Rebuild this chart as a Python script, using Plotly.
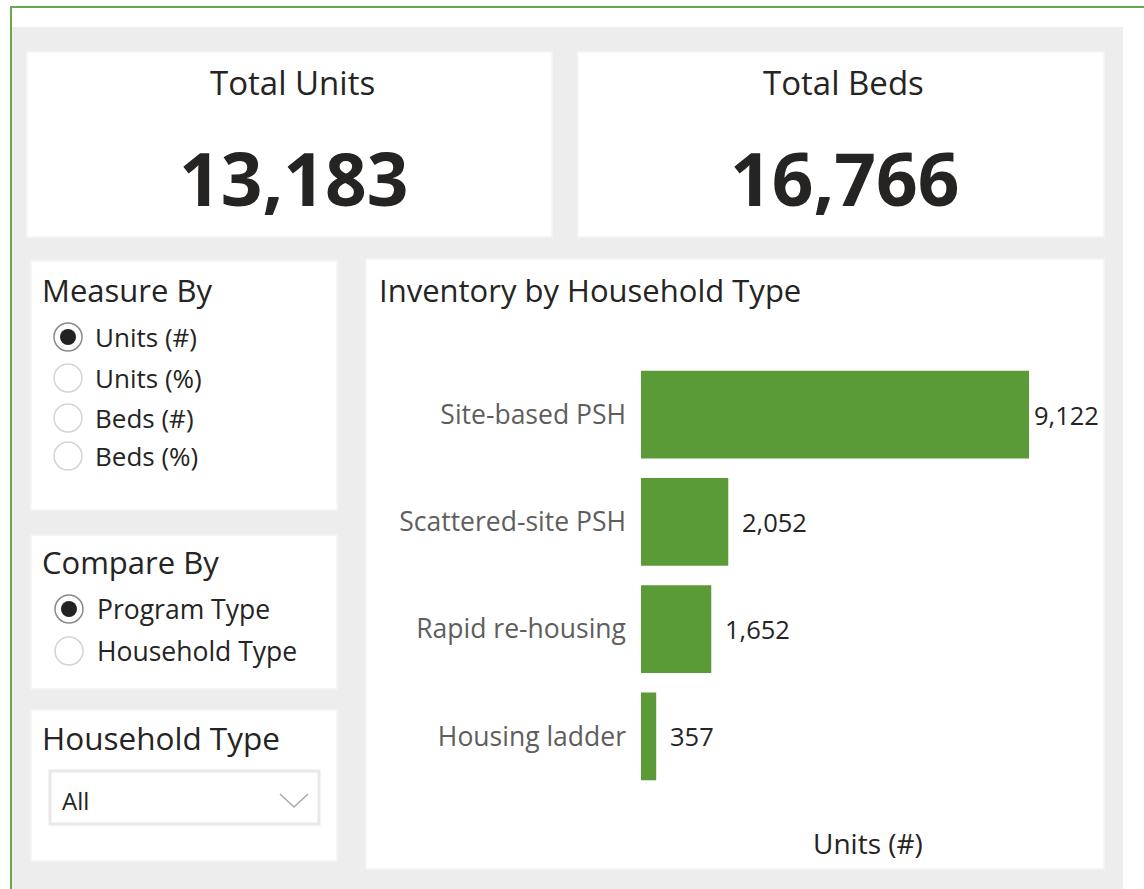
import plotly.graph_objects as go

# data
categories = ["Site-based PSH", "Scattered-site PSH", "Rapid re-housing", "Housing ladder"]
units = [9122, 2052, 1652, 357]
total_beds = 16766
measure_options = ["Units (#)", "Units (%)", "Beds (#)", "Beds (%)"]
compare_options = ["Program Type", "Household Type"]
household_choice = "All"

W, H = 1144, 889
FONT = "Segoe UI, Open Sans, sans-serif"
DARK = "#252423"
GREY_TXT = "#605E5C"
BAR_GREEN = "#5B9B37"
BG = "#EDEDED"


def X(x):
    return x / W


def Y(y):
    return 1 - y / H


def rect(x0, y0, x1, y1, **kw):
    d = dict(type="rect", xref="paper", yref="paper",
             x0=X(x0), x1=X(x1), y0=Y(y1), y1=Y(y0), layer="below")
    d.update(kw)
    return d


def text(x, y, s, size, color=DARK, xanchor="left", weight=None):
    f = dict(family=FONT, size=size, color=color)
    if weight:
        f["weight"] = weight
    return dict(text=s, xref="paper", yref="paper", x=X(x), y=Y(y),
                xanchor=xanchor, yanchor="middle", showarrow=False, font=f)


fig = go.Figure()

fig.add_trace(go.Bar(
    x=units,
    y=categories,
    orientation="h",
    marker=dict(color=BAR_GREEN, line=dict(width=0)),
    hoverinfo="skip",
))

shapes = []
# background and frame
shapes.append(rect(12, 27, 1123, 900, fillcolor=BG, line=dict(width=0)))
shapes.append(rect(11, 7, 1160, 910, fillcolor="rgba(0,0,0,0)",
                   line=dict(color="#6AA84F", width=2)))
# panels
panel_line = dict(color="#F5F5F5", width=1.5)
for box in [(27, 52, 552, 237), (578, 52, 1104, 237), (31, 261, 337, 510),
            (31, 535, 337, 689), (31, 710, 337, 861), (366, 259, 1104, 869)]:
    shapes.append(rect(*box, fillcolor="white", line=panel_line))

# dropdown box
shapes.append(rect(50, 771, 319, 824, fillcolor="white",
                   line=dict(color="#E8E8E8", width=3)))
shapes.append(dict(type="path", xref="paper", yref="paper",
                   path=f"M {X(280)} {Y(794)} L {X(294)} {Y(807)} L {X(308)} {Y(794)}",
                   line=dict(color="#A8A8A8", width=1.5)))

annotations = []


def radio(cx, cy, selected):
    r = 14
    if selected:
        shapes.append(dict(type="circle", xref="paper", yref="paper",
                           x0=X(cx - r), x1=X(cx + r), y0=Y(cy + r), y1=Y(cy - r),
                           fillcolor="white", line=dict(color="#8A8A8A", width=1.5)))
        ri = 8
        shapes.append(dict(type="circle", xref="paper", yref="paper",
                           x0=X(cx - ri), x1=X(cx + ri), y0=Y(cy + ri), y1=Y(cy - ri),
                           fillcolor="#222222", line=dict(width=0)))
    else:
        shapes.append(dict(type="circle", xref="paper", yref="paper",
                           x0=X(cx - r), x1=X(cx + r), y0=Y(cy + r), y1=Y(cy - r),
                           fillcolor="white", line=dict(color="#D4D4D4", width=1.5)))


# KPI cards
annotations.append(text(292, 83, "Total Units", 33, xanchor="center"))
annotations.append(text(294, 177, f"{sum(units):,}", 73, xanchor="center", weight=700))
annotations.append(text(843, 83, "Total Beds", 33, xanchor="center"))
annotations.append(text(845, 177, f"{total_beds:,}", 73, xanchor="center", weight=700))

# slicers
annotations.append(text(40, 290, "Measure By", 31))
for i, opt in enumerate(measure_options):
    cy = [337, 378, 418, 456][i]
    radio(68, cy, i == 0)
    annotations.append(text(93, cy, opt, 26))

annotations.append(text(40, 562, "Compare By", 31))
for i, opt in enumerate(compare_options):
    cy = [609, 651][i]
    radio(69, cy, i == 0)
    annotations.append(text(95, cy, opt, 26.5))

annotations.append(text(40, 737, "Household Type", 31.5))
annotations.append(text(60, 800, household_choice, 24))

# chart title and axis title
annotations.append(text(377, 290, "Inventory by Household Type", 31))
annotations.append(dict(text="Units (#)", xref="x domain", yref="paper", x=0.5, y=Y(843),
                        xanchor="center", yanchor="middle", showarrow=False,
                        font=dict(family=FONT, size=28, color=DARK)))

# data labels
for cat, v in zip(categories, units):
    annotations.append(dict(text=f"{v:,}", x=v, y=cat, xref="x", yref="y",
                            xanchor="left", yanchor="middle", showarrow=False,
                            xshift=3 if v == max(units) else 12,
                            font=dict(family=FONT, size=25.5, color=DARK)))

fig.update_layout(
    width=W,
    height=H,
    margin=dict(l=0, r=0, t=0, b=0, pad=0),
    paper_bgcolor="white",
    plot_bgcolor="rgba(0,0,0,0)",
    showlegend=False,
    bargap=0.18,
    shapes=shapes,
    annotations=annotations,
    xaxis=dict(domain=[X(641), X(1095)], range=[0, max(units) * 1.17],
               showgrid=False, zeroline=False, showticklabels=False,
               showline=False, fixedrange=True),
    yaxis=dict(domain=[Y(790), Y(361)], autorange="reversed",
               showgrid=False, zeroline=False, showline=False, ticks="",
               ticklabelstandoff=14, fixedrange=True,
               tickfont=dict(family=FONT, size=26.5, color=GREY_TXT)),
)

fig.write_html("out.html", config={"displayModeBar": False},
               post_script="document.body.style.margin='0';")
